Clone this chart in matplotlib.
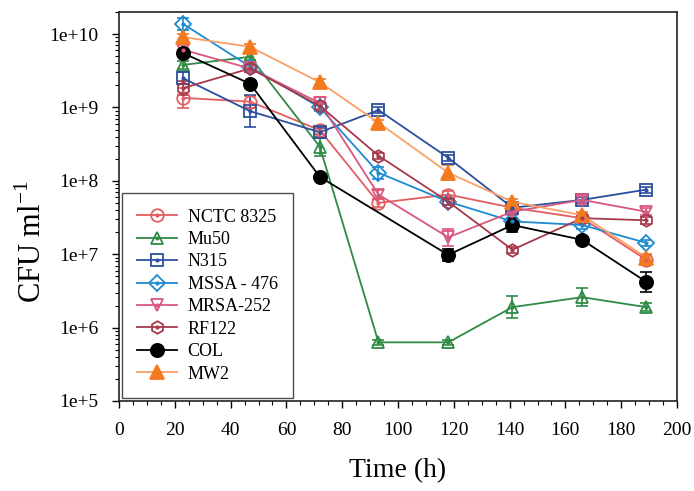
import matplotlib
matplotlib.use("Agg")
import matplotlib.pyplot as plt
import numpy as np
from matplotlib.ticker import MultipleLocator, LogLocator, FuncFormatter, NullFormatter
from matplotlib.legend_handler import HandlerTuple

plt.rcParams['font.family'] = ['Liberation Serif', 'DejaVu Serif']

# sampling times (h)
t = [23, 47, 72, 93, 118, 141, 166, 189]
t_col = [23, 47, 72, 118, 141, 166, 189]

# CFU/ml
nctc = [1.35e9, 1.2e9, 4.9e8, 5.0e7, 6.5e7, 4.3e7, 3.1e7, 8.4e6]
mu50 = [3.8e9, 4.9e9, 2.9e8, 6.3e5, 6.3e5, 1.9e6, 2.6e6, 1.9e6]
n315 = [2.5e9, 8.9e8, 4.6e8, 9.2e8, 2.06e8, 4.3e7, 5.5e7, 7.6e7]
mssa = [1.37e10, 3.6e9, 1.0e9, 1.29e8, 5.2e7, 2.8e7, 2.5e7, 1.43e7]
mrsa = [6.1e9, 3.4e9, 1.15e9, 6.5e7, 1.7e7, 3.8e7, 5.5e7, 3.8e7]
rf122 = [1.84e9, 3.4e9, 1.05e9, 2.2e8, 5.2e7, 1.15e7, 3.1e7, 2.9e7]
col = [5.5e9, 2.1e9, 1.13e8, 9.8e6, 2.5e7, 1.57e7, 4.2e6]
mw2 = [9.1e9, 6.7e9, 2.2e9, 6.2e8, 1.29e8, 5.2e7, 3.4e7, 9.0e6]

# error bar half-widths in log10 units
err_nctc = [0.14, 0.08, 0.05, 0.05, 0.05, 0.04, 0.04, 0.06]
err_mu50 = [0.06, 0.05, 0.12, 0.03, 0.03, 0.15, 0.12, 0.05]
err_n315 = [0.08, 0.22, 0.06, 0.04, 0.04, 0.05, 0.04, 0.04]
err_mssa = [0.08, 0.04, 0.05, 0.08, 0.04, 0.04, 0.05, 0.04]
err_mrsa = [0.06, 0.05, 0.08, 0.06, 0.12, 0.04, 0.05, 0.05]
err_rf122 = [0.1, 0.05, 0.05, 0.04, 0.04, 0.04, 0.04, 0.05]
err_col = [0.04, 0.04, 0.04, 0.08, 0.1, 0.04, 0.14]
err_mw2 = [0.04, 0.04, 0.04, 0.04, 0.1, 0.04, 0.04, 0.05]

names = ['NCTC 8325', 'Mu50', 'N315', 'MSSA - 476', 'MRSA-252', 'RF122', 'COL', 'MW2']


def logerr(vals, e):
    vals = np.array(vals)
    e = np.array(e)
    return [vals - vals / 10**e, vals * 10**e - vals]


fig = plt.figure(figsize=(6.94, 4.91), dpi=100)
ax = fig.add_axes([0.1715, 0.1833, 0.804, 0.7923])

handles = []
series = [
    (t, nctc, err_nctc, '#e35d5f', '#e35d5f', 'o', 9, False),
    (t, mu50, err_mu50, '#2f8a45', '#2f8a45', '^', 9, False),
    (t, n315, err_n315, '#2b4f9e', '#2b4f9e', 's', 8.5, False),
    (t, mssa, err_mssa, '#1e8ad2', '#1e8ad2', 'D', 8.5, False),
    (t, mrsa, err_mrsa, '#d9577e', '#d9577e', 'v', 9, False),
    (t, rf122, err_rf122, '#a63a4a', '#a63a4a', 'h', 9, False),
    (t_col, col, err_col, '#000000', '#000000', 'o', 9.5, True),
    (t, mw2, err_mw2, '#f47a20', '#f9a066', '^', 9.5, True),
]

for (x, y, e, mc, lc, m, ms, filled) in series:
    ax.errorbar(x, y, yerr=logerr(y, e), fmt='none', ecolor=mc, elinewidth=1.2,
                capsize=4, capthick=1.2, zorder=2)
    ln, = ax.plot(x, y, color=lc, lw=1.3, marker=m, ms=ms,
                  mfc=mc if filled else 'none', mec=mc, mew=1.3, zorder=3)
    if filled:
        handles.append(ln)
    else:
        dot, = ax.plot(x, y, ls='none', marker='o', ms=2, color=mc, zorder=4)
        handles.append((ln, dot))

ax.set_yscale('log')
ax.set_xlim(0, 200)
ax.set_ylim(1e5, 2e10)

ax.xaxis.set_major_locator(MultipleLocator(20))
ax.xaxis.set_minor_locator(MultipleLocator(5))
ax.yaxis.set_major_locator(LogLocator(base=10, numticks=10))
ax.yaxis.set_minor_locator(LogLocator(base=10, subs=np.arange(2, 10), numticks=20))
ax.yaxis.set_major_formatter(FuncFormatter(lambda v, p: '1e+%d' % round(np.log10(v))))
ax.yaxis.set_minor_formatter(NullFormatter())

ax.tick_params(axis='both', which='major', direction='out', length=5, width=1,
               labelsize=14, top=False, right=False, pad=10)
ax.tick_params(axis='both', which='minor', direction='out', length=3, width=0.8,
               top=False, right=False)
for s in ax.spines.values():
    s.set_linewidth(1.2)
    s.set_color('#222222')

ax.set_xlabel('Time (h)', fontsize=20, labelpad=14)
ax.set_ylabel('CFU ml$^{\\mathregular{-1}}$', fontsize=22)
ax.yaxis.set_label_coords(-0.128, 0.41)

leg = ax.legend(handles, names, loc='lower left', bbox_to_anchor=(0.005, 0.008),
                borderaxespad=0, fontsize=13, frameon=True, fancybox=False,
                edgecolor='#222222', handlelength=2.2, labelspacing=0.3,
                borderpad=0.85, handletextpad=0.6,
                handler_map={tuple: HandlerTuple(ndivide=1, pad=0)})
leg.get_frame().set_linewidth(1.0)

fig.savefig('out.png', dpi=100)
